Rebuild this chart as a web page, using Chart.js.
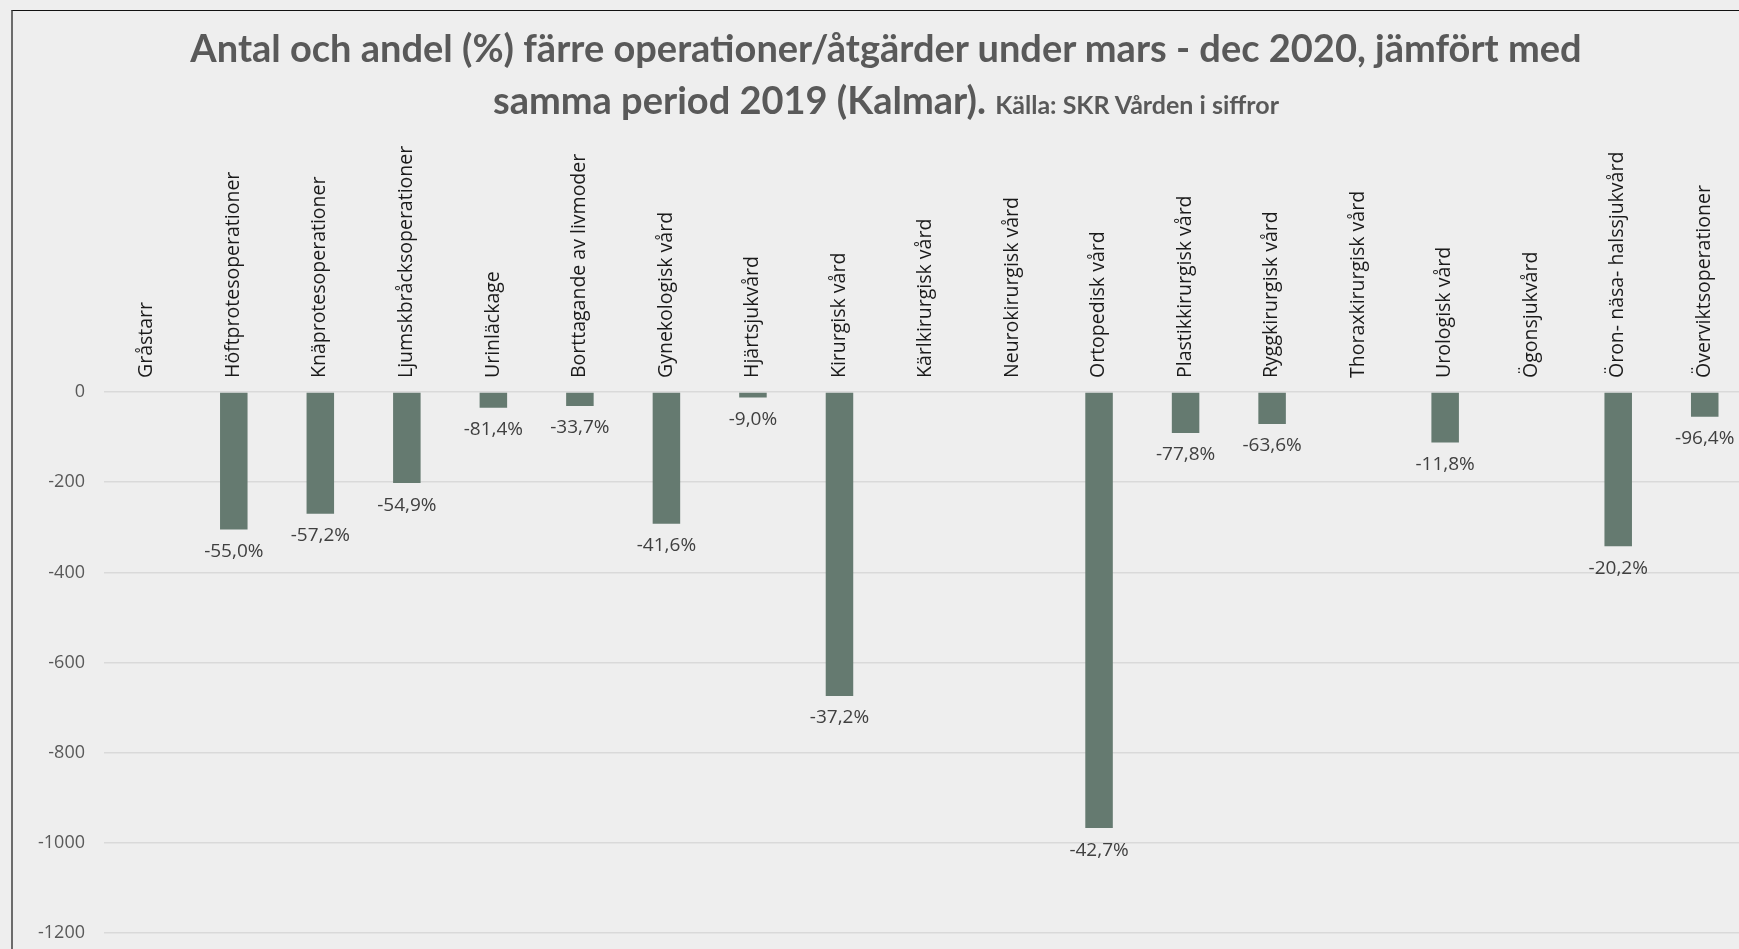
<!DOCTYPE html>
<html>
<head>
<meta charset="utf-8">
<script src="https://cdn.jsdelivr.net/npm/chart.js@4/dist/chart.umd.min.js"></script>
<style>
    html, body { margin: 0; padding: 0; background: #eeeeee; overflow: hidden; width: 1739px; height: 949px; }
    #frame { position: absolute; left: 11px; top: 10px; width: 1800px; height: 1000px;
             border-left: 2px solid #6b6b6b; border-top: 1px solid #111; box-sizing: border-box; }
    #wrap { position: absolute; left: 0; top: 0; width: 1760px; height: 963px; }
    #title { position: absolute; left: 11px; top: 21px; width: 1750px; text-align: center;
             font-family: Lato, sans-serif; font-weight: 700; font-size: 38px; line-height: 52px; color: #595959; }
    #title .src { font-size: 25px; }
</style>
</head>
<body>
<div id="frame"></div>
<div id="wrap"><canvas id="kalmarChart" width="1760" height="963"></canvas></div>
<div id="title">Antal och andel (%) färre operationer/åtgärder under mars - dec 2020, jämfört med<br>samma period 2019 (Kalmar). <span class="src">Källa: SKR Vården i siffror</span></div>
<script>
// Kategorier och värden (antal färre, 2020 jämfört med 2019)
const categories = [
    'Gråstarr', 'Höftprotesoperationer', 'Knäprotesoperationer', 'Ljumskbråcksoperationer',
    'Urinläckage', 'Borttagande av livmoder', 'Gynekologisk vård', 'Hjärtsjukvård',
    'Kirurgisk vård', 'Kärlkirurgisk vård', 'Neurokirurgisk vård', 'Ortopedisk vård',
    'Plastikkirurgisk vård', 'Ryggkirurgisk vård', 'Thoraxkirurgisk vård', 'Urologisk vård',
    'Ögonsjukvård', 'Öron- näsa- halssjukvård', 'Överviktsoperationer'
];
const counts = [null, -305, -270, -202, -35, -31, -292, -12, -674, null, null, -967, -91, -71, null, -112, null, -342, -55];
const percentLabels = ['', '-55,0%', '-57,2%', '-54,9%', '-81,4%', '-33,7%', '-41,6%', '-9,0%', '-37,2%', '', '', '-42,7%', '-77,8%', '-63,6%', '', '-11,8%', '', '-20,2%', '-96,4%'];
const yMin = -1200;
const yMax = 0;
const yStep = 200;

// Procentetiketter under staplarna
const barLabels = {
    id: 'barLabels',
    afterDatasetsDraw(chart) {
        const ctx = chart.ctx;
        const meta = chart.getDatasetMeta(0);
        ctx.save();
        ctx.font = '19px "Open Sans"';
        ctx.fillStyle = '#404040';
        ctx.textAlign = 'center';
        ctx.textBaseline = 'middle';
        meta.data.forEach(function (bar, i) {
            if (!percentLabels[i]) return;
            ctx.fillText(percentLabels[i], bar.x, bar.y + 22);
        });
        ctx.restore();
    }
};

function drawChart() {
    new Chart(document.getElementById('kalmarChart'), {
        type: 'bar',
        data: {
            labels: categories,
            datasets: [{
                data: counts,
                backgroundColor: '#657a70',
                borderWidth: 0,
                categoryPercentage: 1,
                barPercentage: 0.318
            }]
        },
        options: {
            responsive: false,
            animation: false,
            devicePixelRatio: 1,
            layout: { padding: { left: 0, right: 12, top: 0, bottom: 3 } },
            plugins: {
                legend: { display: false },
                tooltip: { enabled: false }
            },
            scales: {
                x: {
                    position: 'top',
                    grid: { display: false },
                    border: { display: false },
                    ticks: {
                        autoSkip: false,
                        maxRotation: 90,
                        minRotation: 90,
                        padding: 6,
                        labelOffset: 23,
                        color: '#1a1a1a',
                        font: { family: '"Open Sans"', size: 19.5 }
                    },
                    afterFit: function (scale) { scale.height = 392; }
                },
                y: {
                    min: yMin,
                    max: yMax,
                    grid: { color: '#d9d9d9', lineWidth: 1.5, drawTicks: false },
                    border: { display: false },
                    ticks: {
                        stepSize: yStep,
                        padding: 19,
                        color: '#595959',
                        font: { family: '"Open Sans"', size: 18 },
                        callback: function (value) { return String(value); }
                    },
                    afterFit: function (scale) { scale.width = 104; }
                }
            }
        },
        plugins: [barLabels]
    });
}

Promise.all([
    document.fonts.load('19.5px "Open Sans"'),
    document.fonts.load('700 38px Lato')
]).then(drawChart, drawChart);
</script>
</body>
</html>
